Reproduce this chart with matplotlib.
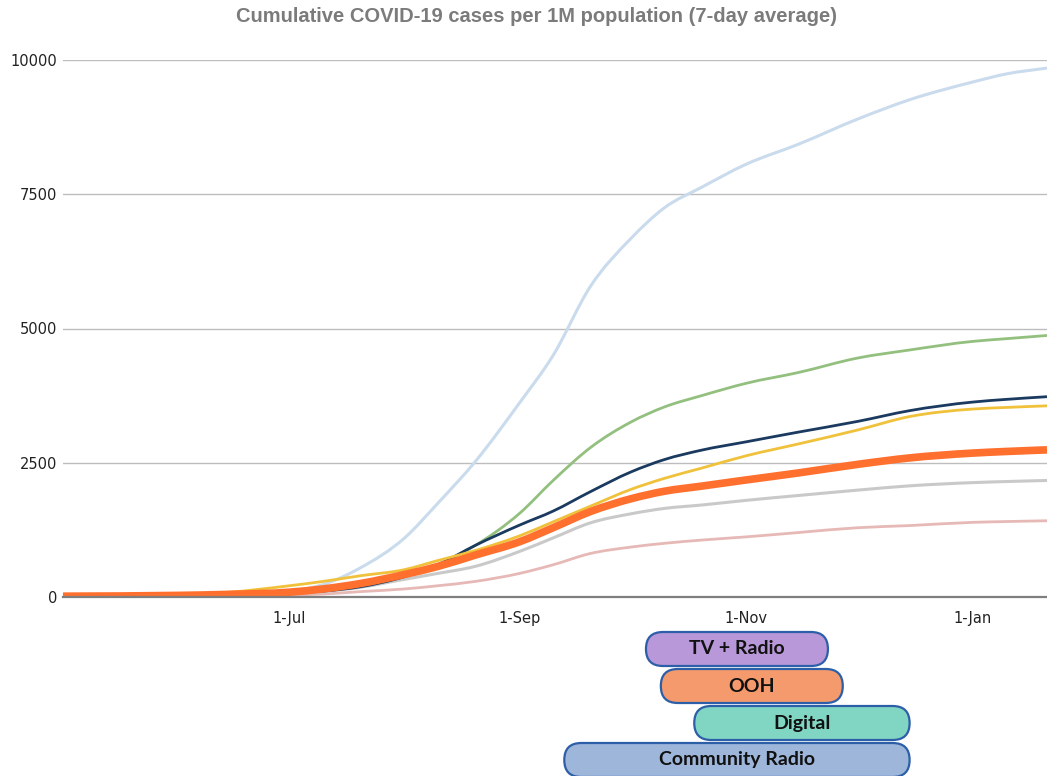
import datetime as dt

import matplotlib.dates as mdates
import matplotlib.pyplot as plt
import numpy as np
from matplotlib.patches import FancyBboxPatch, PathPatch
from matplotlib.path import Path

# sample dates (2020-2021)
dates = [
    dt.date(2020, 5, 1), dt.date(2020, 6, 1), dt.date(2020, 6, 15), dt.date(2020, 7, 1),
    dt.date(2020, 7, 10), dt.date(2020, 7, 20), dt.date(2020, 8, 1), dt.date(2020, 8, 10),
    dt.date(2020, 8, 20), dt.date(2020, 9, 1), dt.date(2020, 9, 10), dt.date(2020, 9, 20),
    dt.date(2020, 10, 1), dt.date(2020, 10, 10), dt.date(2020, 10, 20),
    dt.date(2020, 11, 1), dt.date(2020, 11, 15), dt.date(2020, 12, 1), dt.date(2020, 12, 15),
    dt.date(2021, 1, 1), dt.date(2021, 1, 10), dt.date(2021, 1, 21),
]

# cumulative cases per 1M population
light_blue = [15, 30, 55, 110, 230, 540, 1100, 1750, 2520, 3620, 4500, 5780,
              6680, 7250, 7630, 8060, 8430, 8900, 9260, 9590, 9740, 9850]
green = [10, 25, 40, 80, 130, 220, 390, 610, 960, 1560, 2170, 2780,
         3260, 3540, 3750, 3980, 4180, 4450, 4600, 4760, 4810, 4870]
navy = [10, 20, 35, 70, 110, 190, 380, 600, 960, 1340, 1600, 1960,
        2330, 2560, 2735, 2890, 3070, 3270, 3470, 3630, 3680, 3730]
yellow = [15, 40, 90, 210, 290, 395, 510, 680, 865, 1140, 1400, 1690,
          2005, 2210, 2400, 2630, 2850, 3110, 3360, 3500, 3530, 3560]
orange = [15, 30, 50, 90, 150, 250, 420, 570, 780, 1030, 1290, 1590,
          1830, 1970, 2065, 2180, 2310, 2470, 2590, 2680, 2710, 2740]
gray = [5, 15, 30, 60, 100, 180, 330, 440, 570, 850, 1100, 1380,
        1550, 1650, 1713, 1800, 1890, 1990, 2070, 2130, 2150, 2170]
pink = [3, 8, 15, 35, 55, 100, 150, 210, 290, 440, 600, 810,
        930, 1000, 1060, 1120, 1200, 1290, 1330, 1390, 1405, 1420]

# campaign periods
campaigns = ["TV + Radio", "OOH", "Digital", "Community Radio"]
campaign_start = [dt.date(2020, 10, 5), dt.date(2020, 10, 9), dt.date(2020, 10, 18), dt.date(2020, 9, 13)]
campaign_end = [dt.date(2020, 11, 23), dt.date(2020, 11, 27), dt.date(2020, 12, 15), dt.date(2020, 12, 15)]
campaign_colors = ["#b898d8", "#f49a6c", "#80d6c3", "#9db6da"]

tick_dates = [dt.date(2020, 7, 1), dt.date(2020, 9, 1), dt.date(2020, 11, 1), dt.date(2021, 1, 1)]
tick_labels = ["1-Jul", "1-Sep", "1-Nov", "1-Jan"]


def smooth_line(ax, xd, yd, **kw):
    # excel-style smoothed line: cubic hermite segments through every point
    x = mdates.date2num(xd)
    y = np.asarray(yd, dtype=float)
    m = np.gradient(y, x)
    verts = [(x[0], y[0])]
    codes = [Path.MOVETO]
    for i in range(len(x) - 1):
        h = x[i + 1] - x[i]
        verts += [(x[i] + h / 3, y[i] + m[i] * h / 3),
                  (x[i + 1] - h / 3, y[i + 1] - m[i + 1] * h / 3),
                  (x[i + 1], y[i + 1])]
        codes += [Path.CURVE4] * 3
    ax.add_patch(PathPatch(Path(verts, codes), fill=False, capstyle="butt", **kw))


fig = plt.figure(figsize=(10.47, 7.76), dpi=100)
ax = fig.add_axes([63 / 1047, 1 - 597 / 776, 1 - 63 / 1047, (597 - 60) / 776])

smooth_line(ax, dates, light_blue, edgecolor="#c9dbec", lw=2.2)
smooth_line(ax, dates, pink, edgecolor="#e6b9b6", lw=2)
smooth_line(ax, dates, gray, edgecolor="#c9c9c9", lw=2.2)
smooth_line(ax, dates, green, edgecolor="#93c07e", lw=2)
smooth_line(ax, dates, navy, edgecolor="#1b3a5f", lw=2)
smooth_line(ax, dates, yellow, edgecolor="#f0c13a", lw=2)
smooth_line(ax, dates, orange, edgecolor="#ff6f2e", lw=5.5)

ax.set_xlim(dt.date(2020, 5, 1), dt.date(2021, 1, 21))
ax.set_ylim(0, 10000)
ax.set_yticks([0, 2500, 5000, 7500, 10000])
ax.set_xticks(tick_dates)
ax.set_xticklabels(tick_labels)
ax.tick_params(axis="both", length=0, labelsize=10.5, colors="#222222")
ax.tick_params(axis="x", pad=10)
ax.tick_params(axis="y", pad=4)
ax.grid(axis="y", color="#bdbdbd", lw=1)
ax.set_axisbelow(True)
for side in ["top", "right", "left"]:
    ax.spines[side].set_visible(False)
ax.spines["bottom"].set_color("#7f7f7f")
ax.spines["bottom"].set_linewidth(1.6)
ax.spines["bottom"].set_zorder(3)

fig.text(536 / 1047, 1 - 16 / 776, "Cumulative COVID-19 cases per 1M population (7-day average)",
         ha="center", va="center", fontsize=14.5, fontweight="bold", color="#7b7b7b",
         family="Liberation Sans")

# campaign pills under the axis, placed in pixel coords from the date scale
fig.canvas.draw()
row_centers = [649, 686, 723, 760]
h = 34
for name, s, e, c, yc in zip(campaigns, campaign_start, campaign_end, campaign_colors, row_centers):
    x0 = ax.transData.transform((mdates.date2num(s), 0))[0]
    x1 = ax.transData.transform((mdates.date2num(e), 0))[0]
    y_pix = 776 - yc
    box = FancyBboxPatch((x0, y_pix - h / 2), x1 - x0, h,
                         boxstyle="round,pad=0,rounding_size=17",
                         transform=None, facecolor=c, edgecolor="#2d5fa8", lw=1.6,
                         clip_on=False)
    fig.patches.append(box)
    fig.text((x0 + x1) / 2 / 1047, y_pix / 776, name, ha="center", va="center",
             fontsize=14, fontweight="bold", color="#111111", family="Lato")

fig.savefig("out.png", dpi=100)
